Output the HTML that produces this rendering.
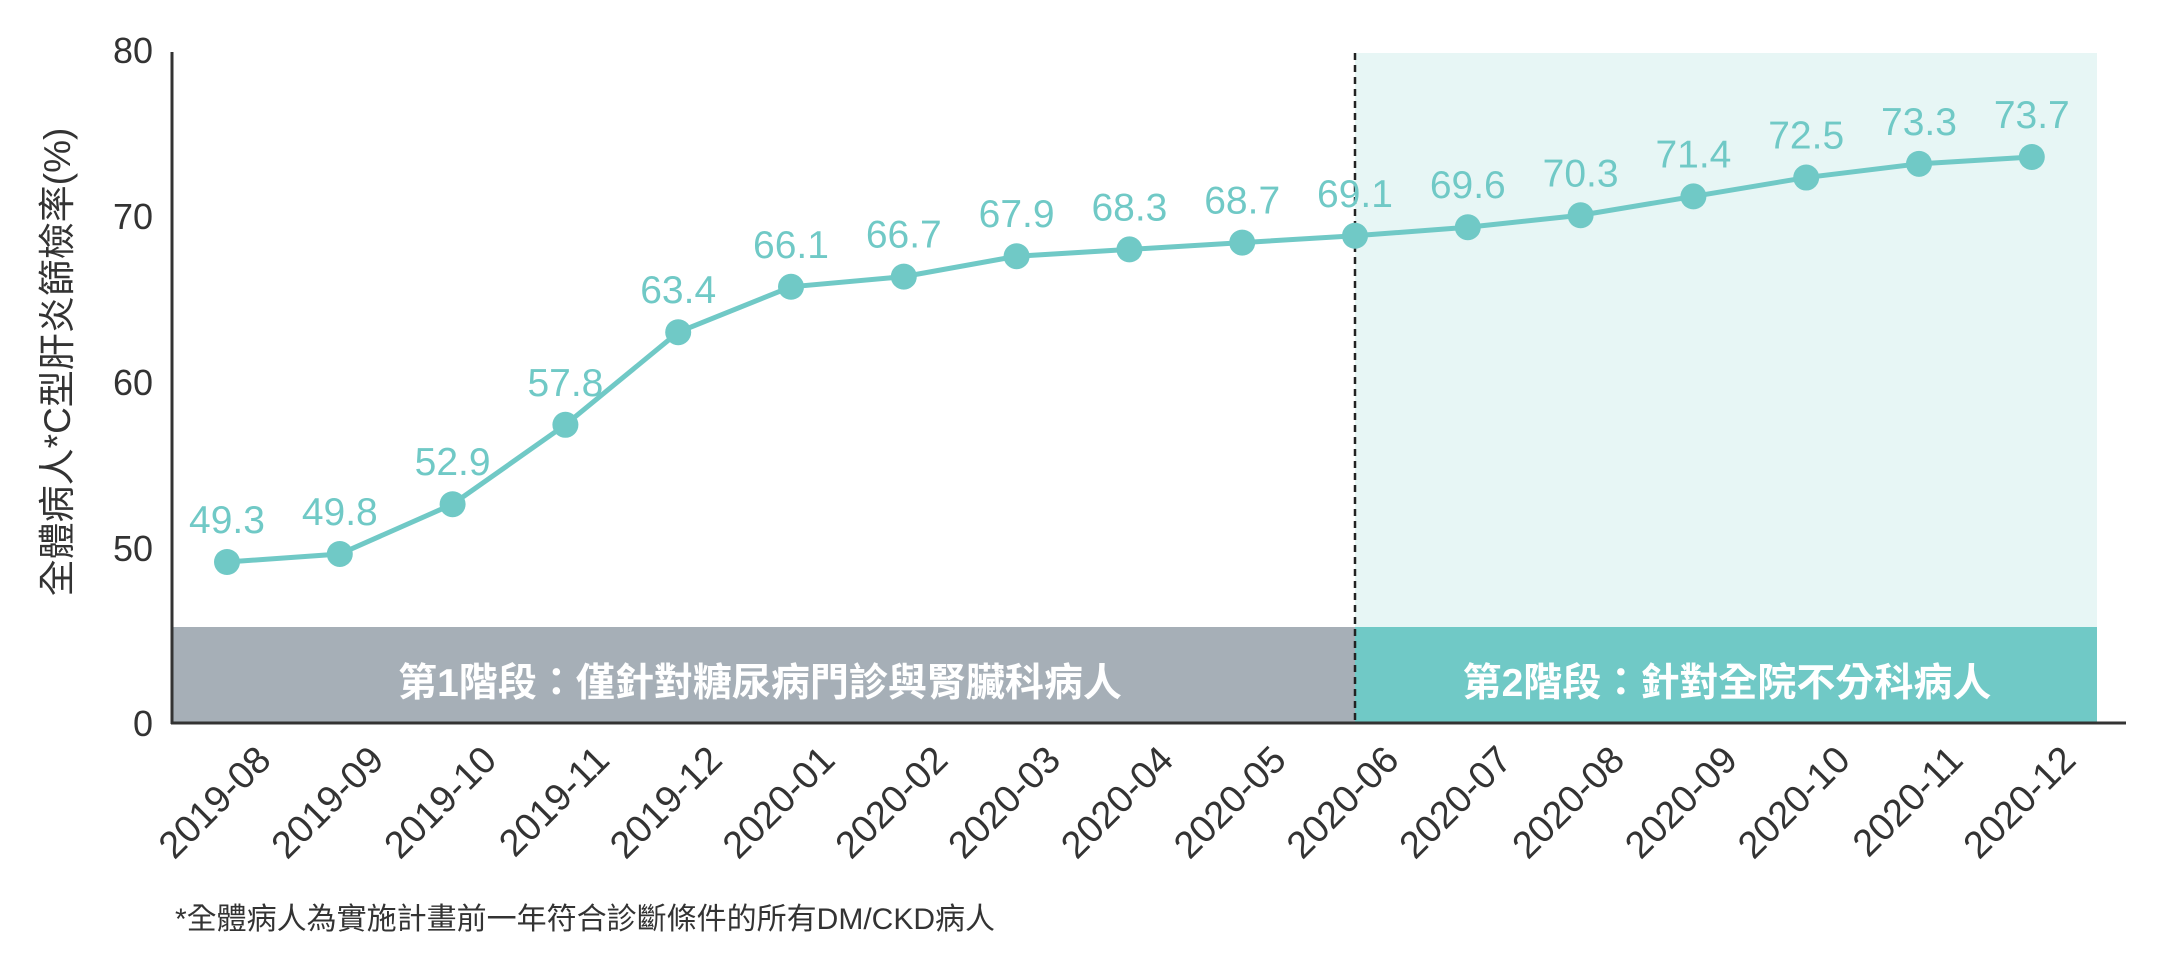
<!DOCTYPE html>
<html><head><meta charset="utf-8"><style>
html,body{margin:0;padding:0;background:#fff;}
svg{display:block;}
text{font-family:"Liberation Sans","Noto Sans CJK TC",sans-serif;}
</style></head><body>
<svg width="2157" height="957" viewBox="0 0 2157 957" xmlns="http://www.w3.org/2000/svg">
<rect x="1355" y="53" width="742" height="574" fill="#e7f6f5"/>
<rect x="173" y="627" width="1182" height="96" fill="#a6afb7"/>
<rect x="1355" y="627" width="742" height="96" fill="#70c9c6"/>
<text x="760" y="696" font-size="39" font-weight="bold" fill="#fff" text-anchor="middle">第1階段：僅針對糖尿病門診與腎臟科病人</text>
<text x="1727" y="696" font-size="39" font-weight="bold" fill="#fff" text-anchor="middle">第2階段：針對全院不分科病人</text>
<line x1="1355" y1="53" x2="1355" y2="723" stroke="#222" stroke-width="2.5" stroke-dasharray="7,5"/>
<line x1="172" y1="52" x2="172" y2="724" stroke="#333" stroke-width="3"/>
<line x1="171" y1="723" x2="2126" y2="723" stroke="#333" stroke-width="3"/>
<g font-size="36" fill="#333" text-anchor="end">
<text x="153" y="63">80</text>
<text x="153" y="229">70</text>
<text x="153" y="395">60</text>
<text x="153" y="561">50</text>
<text x="153" y="736">0</text>
</g>
<text transform="translate(70,362) rotate(-90)" font-size="37" fill="#333" text-anchor="middle">全體病人*C型肝炎篩檢率(%)</text>
<g id="series"></g>
<text x="175" y="929" font-size="30" fill="#333">*全體病人為實施計畫前一年符合診斷條件的所有DM/CKD病人</text>
<script>
var vals=[49.3,49.8,52.9,57.8,63.4,66.1,66.7,67.9,68.3,68.7,69.1,69.6,70.3,71.4,72.5,73.3,73.7];
var labs=["2019-08","2019-09","2019-10","2019-11","2019-12","2020-01","2020-02","2020-03","2020-04","2020-05","2020-06","2020-07","2020-08","2020-09","2020-10","2020-11","2020-12"];
var ns="http://www.w3.org/2000/svg",g=document.getElementById("series");
function X(i){return 227+i*112.8;}
function Y(v){var t=(v-49.3)/24.4;return 562-(v-49.3)*16.6+4*Math.sin(Math.PI*t)*1.1;}
var pts=vals.map(function(v,i){return X(i)+","+Y(v);}).join(" ");
var pl=document.createElementNS(ns,"polyline");pl.setAttribute("points",pts);pl.setAttribute("fill","none");pl.setAttribute("stroke","#70c9c6");pl.setAttribute("stroke-width","5");g.appendChild(pl);
vals.forEach(function(v,i){
var c=document.createElementNS(ns,"circle");c.setAttribute("cx",X(i));c.setAttribute("cy",Y(v));c.setAttribute("r","13");c.setAttribute("fill","#70c9c6");g.appendChild(c);
var t=document.createElementNS(ns,"text");t.setAttribute("x",X(i));t.setAttribute("y",Y(v)-29);t.setAttribute("font-size","39");t.setAttribute("fill","#70c9c6");t.setAttribute("text-anchor","middle");t.textContent=v.toFixed(1);g.appendChild(t);
var l=document.createElementNS(ns,"text");var lx=X(i)+46,ly=762;l.setAttribute("transform","translate("+lx+","+ly+") rotate(-45)");l.setAttribute("font-size","38");l.setAttribute("fill","#333");l.setAttribute("text-anchor","end");l.textContent=labs[i];g.appendChild(l);
});
</script>
</svg>
</body></html>
